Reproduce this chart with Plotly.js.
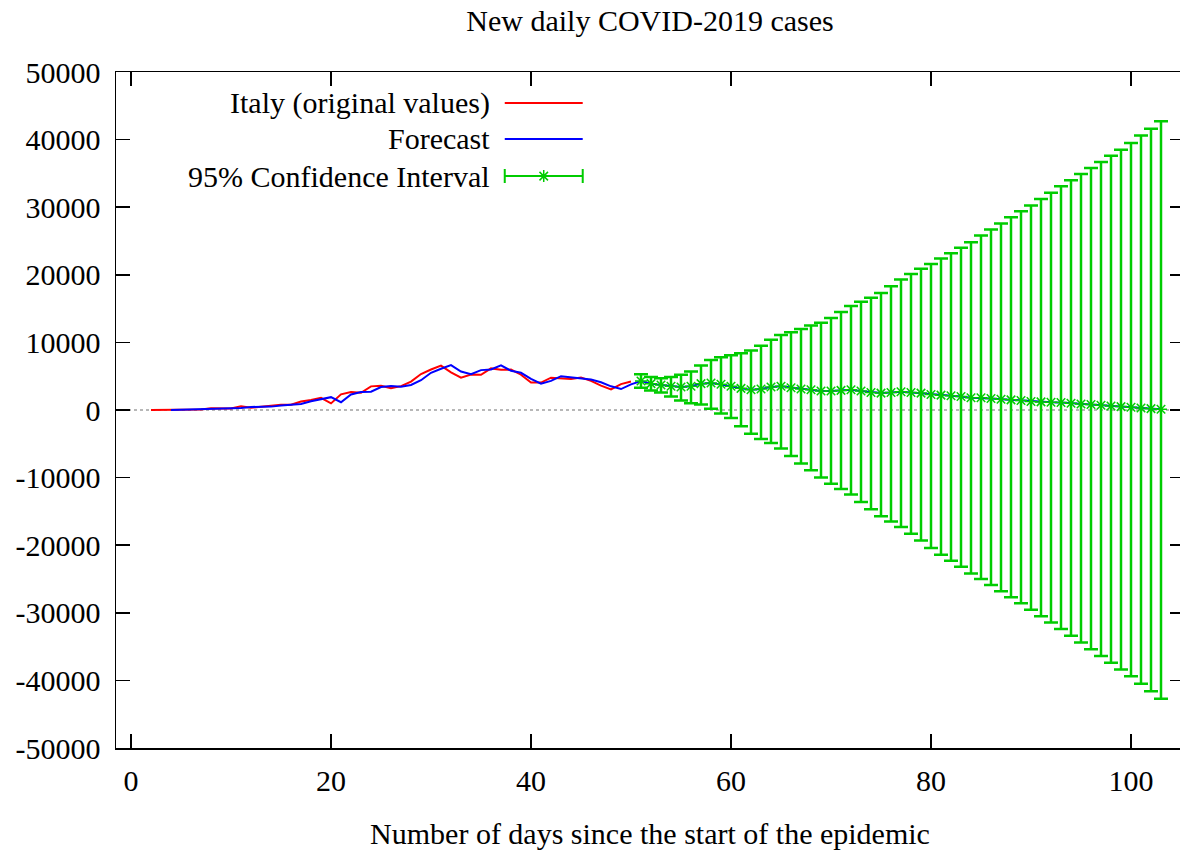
<!DOCTYPE html>
<html><head><meta charset="utf-8">
<script src="https://cdn.plot.ly/plotly-3.0.1.min.js"></script>
<style>html,body{margin:0;padding:0;overflow:hidden;background:#fff}#chart{width:1184px;height:857px}</style>
</head><body><div id="chart"></div>
<script>
// Italy original daily cases (day index since start of epidemic)
const italyDays = [2,3,4,5,6,7,8,9,10,11,12,13,14,15,16,17,18,19,20,21,22,23,24,25,26,27,28,29,30,31,32,33,34,35,36,37,38,39,40,41,42,43,44,45,46,47,48,49,50];
const italyCases = [17,42,93,74,93,78,250,238,240,566,342,466,587,769,778,1247,1492,1797,977,2313,2651,2547,3497,3590,3233,3526,4207,5322,5986,6557,5560,4789,5249,5210,6153,5959,5974,5217,4050,4053,4782,4668,4585,4805,4316,3599,3039,3836,4204];

// Forecast (in-sample days 4..50)
const forecastFitDays = [4,5,6,7,8,9,10,11,12,13,14,15,16,17,18,19,20,21,22,23,24,25,26,27,28,29,30,31,32,33,34,35,36,37,38,39,40,41,42,43,44,45,46,47,48,49,50];
const forecastFitCases = [0,40,80,90,100,200,250,280,450,420,500,650,760,900,1300,1600,1900,1150,2300,2650,2700,3400,3550,3450,3700,4400,5500,6100,6650,5700,5300,5900,6000,6600,5800,5500,4600,3900,4300,5000,4800,4600,4500,4100,3500,3100,3800];

// Out-of-sample forecast with 95% confidence interval (days 51..103)
const ciDays = [51,52,53,54,55,56,57,58,59,60,61,62,63,64,65,66,67,68,69,70,71,72,73,74,75,76,77,78,79,80,81,82,83,84,85,86,87,88,89,90,91,92,93,94,95,96,97,98,99,100,101,102,103];
const ciCenter = [4300,3900,3700,3500,3400,3500,3900,4000,3800,3500,3200,3000,3100,3400,3500,3300,3100,3000,2800,2800,2900,3000,2800,2600,2500,2600,2700,2600,2500,2300,2200,2100,2000,1800,1800,1700,1600,1500,1400,1250,1200,1150,1100,1000,900,800,700,600,500,400,300,200,100];
// distance from forecast to upper / lower limit
const ciUpper = [1000,1000,1000,1400,1800,2200,2700,3400,4000,4600,5200,5800,6400,7000,7600,8200,8900,9500,10100,10800,11600,12400,13200,14000,14800,15700,16600,17500,18400,19300,20200,21100,22000,23000,24000,25000,26000,27000,28000,29000,30000,31000,32000,33000,34000,35000,36000,37000,38000,39100,40300,41400,42600];
const ciLower = [1000,1000,1100,1500,2000,2500,3100,3800,4300,4700,5600,6500,7400,8300,9200,10100,11000,11900,12800,13700,14600,15500,16400,17300,18200,19100,20000,20900,21800,22700,23600,24400,25200,26000,26800,27600,28400,29200,30000,30800,31700,32600,33500,34400,35300,36200,37100,38000,38900,39800,40800,41800,42800];

const xTickVals = [0,20,40,60,80,100];
const yTickVals = [-50000,-40000,-30000,-20000,-10000,0,10000,20000,30000,40000,50000];
const yTickText = ["-50000","-40000","-30000","-20000","-10000","0","10000","20000","30000","40000","50000"];

const seriesNames = ["Italy (original values)","Forecast","95% Confidence Interval"];
const titleText = "New daily COVID-2019 cases";
const xTitleText = "Number of days since the start of the epidemic";

const RED = "#ff0000", BLUE = "#0000ff", GREEN = "#00cc00";
const FONT = "Liberation Serif, Times New Roman, serif";
const FS = 30;

const forecastDays = forecastFitDays.concat(ciDays);
const forecastCases = forecastFitCases.concat(ciCenter);

const traces = [
  {x: italyDays, y: italyCases, mode: "lines", line: {color: RED, width: 2}, hoverinfo: "skip"},
  {x: forecastDays, y: forecastCases, mode: "lines", line: {color: BLUE, width: 2}, hoverinfo: "skip"},
  {x: ciDays, y: ciCenter, mode: "markers",
   marker: {symbol: "asterisk-open", size: 10, color: GREEN, line: {color: GREEN, width: 1.5}},
   error_y: {type: "data", symmetric: false, array: ciUpper, arrayminus: ciLower, visible: true, color: GREEN, thickness: 2.5, width: 7},
   hoverinfo: "skip"},
  // legend samples (overlay axes in plot-fraction units)
  {x: [0.364, 0.437], y: [0.954, 0.954], xaxis: "x2", yaxis: "y2", mode: "lines", line: {color: RED, width: 2}, hoverinfo: "skip"},
  {x: [0.364, 0.437], y: [0.901, 0.901], xaxis: "x2", yaxis: "y2", mode: "lines", line: {color: BLUE, width: 2}, hoverinfo: "skip"},
  {x: [0.4005], y: [0.846], xaxis: "x2", yaxis: "y2", mode: "markers",
   marker: {symbol: "asterisk-open", size: 10, color: GREEN, line: {color: GREEN, width: 1.5}},
   error_x: {type: "data", array: [0.0365], visible: true, color: GREEN, thickness: 2, width: 7},
   hoverinfo: "skip"}
];

const legendRows = [0.954, 0.901, 0.846];
const annotations = seriesNames.map((n, i) => ({
  text: n, xref: "paper", yref: "paper", x: 0.352, y: legendRows[i],
  xanchor: "right", yanchor: "middle", showarrow: false,
  font: {family: FONT, size: FS, color: "#000"}
}));

const axisCommon = {
  showgrid: false, zeroline: false, showline: true, mirror: "ticks",
  linecolor: "#000", linewidth: 1.5, ticks: "inside", ticklen: 14, tickwidth: 1.5, tickcolor: "#000",
  tickfont: {family: FONT, size: FS, color: "#000"}
};

const layout = {
  width: 1184, height: 857,
  margin: {l: 116, r: 0, t: 72, b: 109},
  paper_bgcolor: "#fff", plot_bgcolor: "#fff",
  showlegend: false,
  title: {text: titleText, font: {family: FONT, size: FS, color: "#000"}, x: 0.5, xanchor: "center", xref: "paper", y: 0.976, yanchor: "middle"},
  xaxis: Object.assign({}, axisCommon, {range: [-1.5, 105.3], tickmode: "array", tickvals: xTickVals, ticklabelstandoff: 5,
    title: {text: xTitleText, font: {family: FONT, size: FS, color: "#000"}, standoff: 27}}),
  yaxis: Object.assign({}, axisCommon, {range: [-50000, 50000], tickmode: "array", tickvals: yTickVals, ticktext: yTickText, ticklabelstandoff: 8}),
  xaxis2: {overlaying: "x", range: [0, 1], visible: false, fixedrange: true},
  yaxis2: {overlaying: "y", range: [0, 1], visible: false, fixedrange: true},
  shapes: [{type: "line", xref: "paper", yref: "y", x0: 0, x1: 1, y0: 0, y1: 0, line: {color: "#a0a0a0", width: 1.5, dash: "dot"}, layer: "below"}],
  annotations: annotations
};

Plotly.newPlot("chart", traces, layout, {displayModeBar: false, staticPlot: true});
</script>
</body></html>
